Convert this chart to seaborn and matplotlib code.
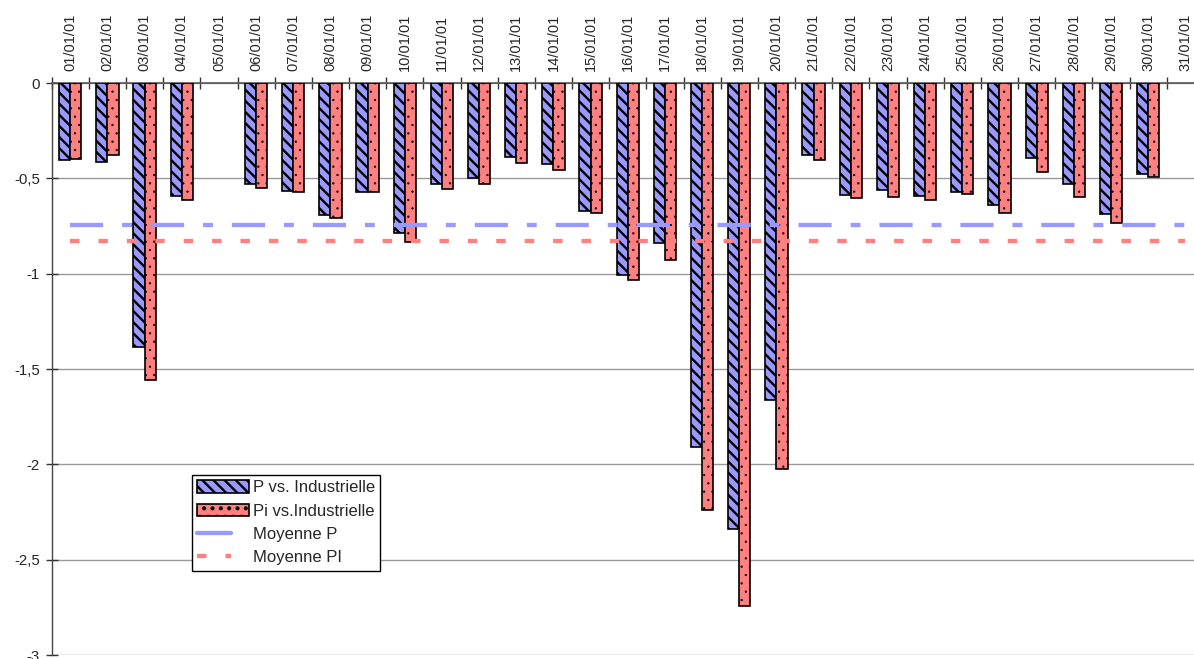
import numpy as np
import pandas as pd
import seaborn as sns
import matplotlib.pyplot as plt
import matplotlib.patches as mpatches
from matplotlib.lines import Line2D
from matplotlib.legend_handler import HandlerLine2D
from matplotlib.ticker import FixedLocator, FuncFormatter

dates = ["%02d/01/01" % d for d in range(1, 32)]

p_vals = [-0.404, -0.416, -1.384, -0.593, np.nan, -0.528, -0.567, -0.693, -0.574, -0.787,
          -0.532, -0.500, -0.388, -0.427, -0.672, -1.008, -0.838, -1.909, -2.338, -1.664,
          -0.380, -0.588, -0.562, -0.593, -0.569, -0.640, -0.395, -0.527, -0.688, -0.478,
          np.nan]
pi_vals = [-0.400, -0.380, -1.560, -0.614, np.nan, -0.553, -0.572, -0.709, -0.572, -0.835,
           -0.556, -0.528, -0.420, -0.457, -0.682, -1.034, -0.929, -2.238, -2.745, -2.023,
           -0.404, -0.605, -0.600, -0.614, -0.583, -0.684, -0.469, -0.600, -0.733, -0.495,
           np.nan]

mean_p = -0.746
mean_pi = -0.830

series_names = ["P vs. Industrielle", "Pi vs.Industrielle"]
mean_names = ["Moyenne P", "Moyenne PI"]

blue = "#9999FF"
red = "#FF8080"


class ShortLine(HandlerLine2D):
    # legend lines are shorter than the bar patches in the original
    def create_artists(self, legend, orig_handle, xdescent, ydescent, width, height, fontsize, trans):
        return super().create_artists(legend, orig_handle, xdescent, ydescent,
                                      width * 0.66, height, fontsize, trans)


def build_frame():
    df = pd.DataFrame({
        "date": dates * 2,
        "value": p_vals + pi_vals,
        "serie": [series_names[0]] * len(dates) + [series_names[1]] * len(dates),
    })
    return df


def set_hatch(patch, hatch, lw):
    patch.set_hatch(hatch)
    if hasattr(patch, "set_hatch_linewidth"):
        patch.set_hatch_linewidth(lw)


def chart(df):
    sns.set_style("white")
    plt.rcParams["font.family"] = ["Liberation Sans", "DejaVu Sans"]
    plt.rcParams["hatch.linewidth"] = 1.7

    fig = plt.figure(figsize=(11.94, 6.59), dpi=100)
    ax = fig.add_axes([0.0433, 0.006, 0.965, 0.868])

    sns.barplot(data=df, x="date", y="value", hue="serie", order=dates,
                hue_order=series_names, palette=[blue, red], width=0.6,
                saturation=1, edgecolor="black", linewidth=1.2,
                err_kws={"linewidth": 0}, legend=False, ax=ax, zorder=3)

    hatches = ["\\\\\\", ".."]
    hatch_lw = [1.7, 0.4]
    for cont, h, hl in zip(ax.containers, hatches, hatch_lw):
        for bar in cont:
            set_hatch(bar, h, hl)

    n = len(dates)
    ax.hlines(mean_p, 0, n - 1, colors=blue, linewidth=3.1, zorder=4,
              linestyles=[(0, (7.7, 4.4, 2.3, 4.4))])
    ax.hlines(mean_pi, 0, n - 1, colors=red, linewidth=3.1, zorder=4,
              linestyles=[(0, (2.2, 4.4))])

    ax.set_xlim(-0.5, n - 0.5)
    ax.set_ylim(-3, 0)
    ax.set_xlabel("")
    ax.set_ylabel("")

    # x axis on top, labels centred, ticks between categories
    ax.xaxis.tick_top()
    ax.set_xticks(range(n))
    ax.set_xticklabels(dates, rotation=90)
    ax.xaxis.set_minor_locator(FixedLocator(np.arange(-0.5, n, 1.0)))
    ax.tick_params(axis="x", which="major", length=0, pad=9, labelsize=10.5)
    ax.tick_params(axis="x", which="minor", direction="inout", length=8,
                   width=1, color="#333333", top=True, bottom=False)

    ax.set_yticks(np.arange(-3, 0.01, 0.5))
    ax.yaxis.set_major_formatter(FuncFormatter(lambda v, pos: ("%g" % v).replace(".", ",")))
    ax.tick_params(axis="y", direction="inout", length=9, width=1, color="#333333",
                   left=True, pad=4, labelsize=10.8)

    ax.yaxis.grid(True, color="#999999", linewidth=1, zorder=0)
    ax.set_axisbelow(True)
    for side in ["right", "bottom"]:
        ax.spines[side].set_visible(False)
    ax.spines["left"].set_color("#444444")
    ax.spines["top"].set_color("#555555")
    ax.spines["left"].set_linewidth(1)
    ax.spines["top"].set_linewidth(1.2)

    p_handle = mpatches.Patch(facecolor=blue, edgecolor="black", linewidth=1.2)
    pi_handle = mpatches.Patch(facecolor=red, edgecolor="black", linewidth=1.2)
    set_hatch(p_handle, "\\\\\\", 1.7)
    set_hatch(pi_handle, "..", 0.4)
    handles = [
        p_handle,
        pi_handle,
        Line2D([], [], color=blue, linewidth=3.1),
        Line2D([], [], color=red, linewidth=3.1, linestyle=(0, (2.2, 4.4))),
    ]
    leg = ax.legend(handles, series_names + mean_names, loc="upper left",
                    bbox_to_anchor=(0.1215, 0.3147), borderaxespad=0,
                    fontsize=12, frameon=True, fancybox=False, framealpha=1,
                    edgecolor="black", handlelength=3.1, handleheight=0.75,
                    handletextpad=0.25, labelspacing=0.5, borderpad=0.32,
                    handler_map={Line2D: ShortLine()})
    leg.get_frame().set_linewidth(1)
    leg.set_zorder(5)

    fig.savefig("out.png", dpi=100)


if __name__ == "__main__":
    chart(build_frame())
